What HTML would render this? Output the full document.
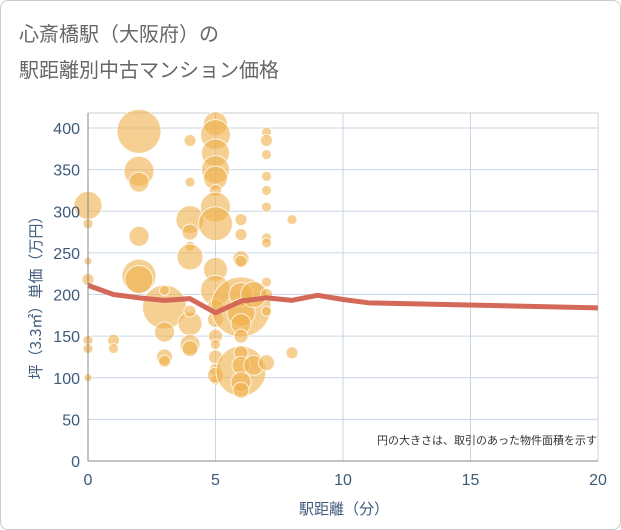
<!DOCTYPE html>
<html><head><meta charset="utf-8"><style>
body{margin:0;background:#fff;font-family:"Liberation Sans","Noto Sans CJK JP",sans-serif;}
#wrap{position:relative;width:619px;height:528px;border:1px solid #ccc;border-radius:8px;overflow:hidden;background:#fff}
</style></head><body>
<div id="wrap">
<svg id="chart" width="621" height="530">
<text x="18" y="40" font-size="20" fill="#666" font-family="Noto Sans CJK JP, sans-serif">心斎橋駅（大阪府）の</text>
<text x="18" y="76" font-size="20" fill="#666" font-family="Noto Sans CJK JP, sans-serif">駅距離別中古マンション価格</text>
<g id="grid"></g><g id="bubbles"></g><g id="line"></g><g id="axes"></g>
<text x="596" y="443" font-size="11" fill="#333" text-anchor="end" font-family="Noto Sans CJK JP, sans-serif">円の大きさは、取引のあった物件面積を示す</text>
<text x="343" y="513" font-size="15" fill="#3d5a7a" text-anchor="middle" font-family="Noto Sans CJK JP, sans-serif">駅距離（分）</text>
<text transform="translate(40,293) rotate(-90)" font-size="15" fill="#3d5a7a" text-anchor="middle" font-family="Noto Sans CJK JP, sans-serif">坪（3.3㎡）単価（万円）</text>
</svg></div>
<script>
const xTicks=[0,5,10,15,20];
const yTicks=[0,50,100,150,200,250,300,350,400];
const bubbleX=[0,0,0,0,0,0,0,1,1,2,2,2,2,2,2,3,3,3,3,3,4,4,4,4,4,4,4,4,4,4,5,5,5,5,5,5,5,5,5,5,5,5,5,5,5,5,5,5,6,6,6,6,6,6,6,6,6,6,6,6,6,6,6.5,6.5,7,7,7,7,7,7,7,7,7,7,7,7,8,8];
const bubbleY=[307,285,240,218,145,135,100,145,135,396,348,335,270,222,218,185,205,125,120,155,385,335,290,275,258,245,165,180,140,135,405,392,370,350,340,325,305,285,230,205,185,170,150,140,125,110,97,103,185,200,178,165,150,243,240,290,272,108,130,115,95,85,115,200,395,385,368,342,325,305,268,262,215,200,180,118,290,130];
const bubbleR=[14,5,4,6,5,5,4,6,5,22,15,10,10,17,14,22,5,8,6,10,6,5,14,8,5,13,12,6,10,8,12,15,14,14,12,6,15,17,12,15,8,8,7,5,7,6,5,8,30,12,14,10,7,8,6,6,6,25,7,9,10,8,10,13,5,6,5,5,5,5,5,5,5,6,5,8,5,6];
const lineX=[0,1,2,3,4,5,6,7,8,9,10,11,20];
const lineY=[211,200,196,193,195,178,192,196,193,199,194,190,184];
const NS="http://www.w3.org/2000/svg";
const X0=87,X1=597,Y0=460,Y1=127;
const sx=v=>X0+(X1-X0)*v/20, sy=v=>Y0-(Y0-Y1)*v/400;
function mk(t,a,p){const e=document.createElementNS(NS,t);for(const k in a)e.setAttribute(k,a[k]);document.getElementById(p).appendChild(e);return e;}
let e=mk('rect',{x:X0,y:112,width:X1-X0,height:Y0-112,fill:'none',stroke:'#ccc'},'grid');


yTicks.forEach(v=>{if(v>0){const g=mk('line',{x1:X0,x2:X1,y1:sy(v),y2:sy(v),stroke:'#c9d6e6'},'grid');

}
const t=mk('text',{x:X0-8,y:sy(v)+6,'font-size':16,fill:'#3d5a7a','text-anchor':'end'},'axes');t.textContent=v;

});
xTicks.forEach(v=>{if(v>0){const g=mk('line',{x1:sx(v),x2:sx(v),y1:112,y2:Y0,stroke:'#c9d6e6'},'grid');

}
const t=mk('text',{x:sx(v),y:Y0+24,'font-size':16,fill:'#3d5a7a','text-anchor':'middle'},'axes');t.textContent=v;

});
let a=mk('line',{x1:X0,x2:X1,y1:Y0,y2:Y0,stroke:'#888'},'axes');


a=mk('line',{x1:X0,x2:X0,y1:112,y2:Y0,stroke:'#888'},'axes');


bubbleX.forEach((x,i)=>{const c=mk('circle',{cx:sx(x),cy:sy(bubbleY[i]),r:bubbleR[i],fill:'rgba(240,176,75,0.6)',stroke:'rgba(255,255,255,0.8)','stroke-width':1},'bubbles');

});
const p=mk('polyline',{points:lineX.map((x,i)=>sx(x)+','+sy(lineY[i])).join(' '),fill:'none',stroke:'#d4695a','stroke-width':5,'stroke-linejoin':'round'},'line');


</script></body></html>
